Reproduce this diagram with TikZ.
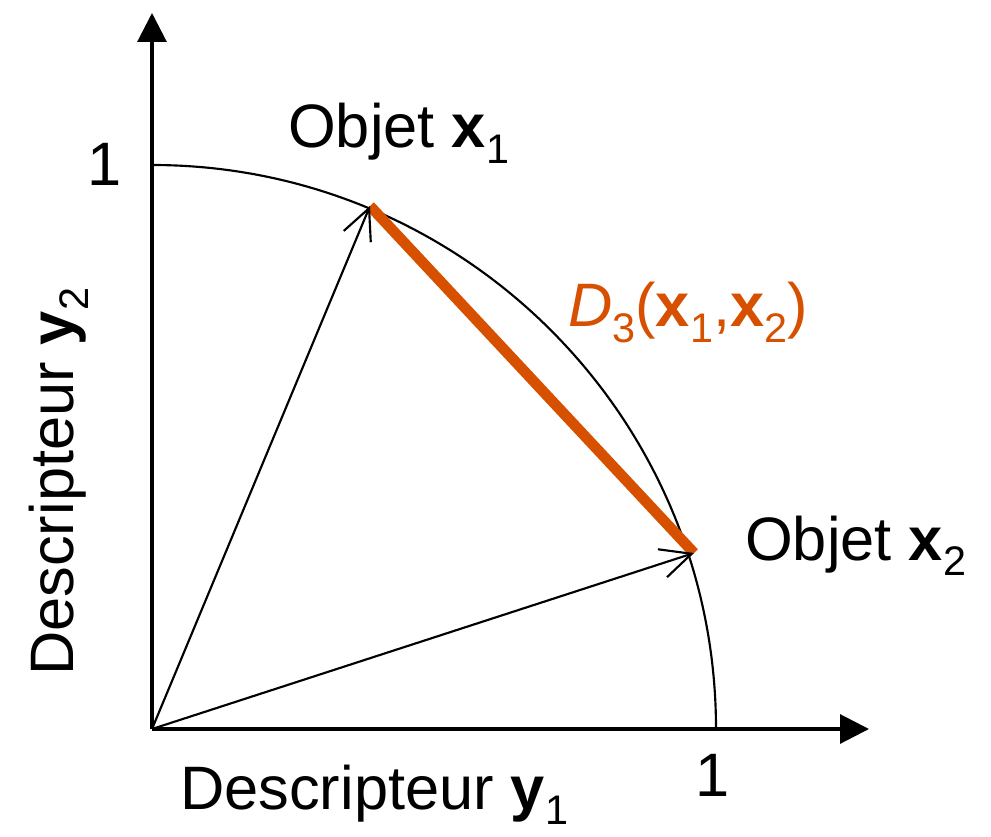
\documentclass[tikz,border=0pt]{standalone}
\usepackage{fontspec}
\setmainfont{Liberation Sans}
\usetikzlibrary{arrows.meta}
\definecolor{orng}{RGB}{214,80,0}
\newcommand{\sbs}[1]{\raisebox{-0.26em}{\fontsize{31}{34}\selectfont #1}}
\begin{document}
\begin{tikzpicture}[x=0.75pt,y=0.75pt,
  axis/.style={line width=2.3pt,-{Triangle[length=21.75pt,width=21.75pt]}},
  vec/.style={line width=1.6pt,-{Straight Barb[length=23pt,width=22pt,line width=1.6pt]}},
  circ/.style={line width=1.6pt},
  dist/.style={line width=8pt,draw=orng},
  lbl/.style={font=\fontsize{46}{55}\selectfont,inner sep=0pt}]
\useasboundingbox (0,0) rectangle (991,836);
\coordinate (O) at (152,107);
\coordinate (YT) at (152,823);
\coordinate (XT) at (869,107);
\coordinate (A0) at (716,107);
\coordinate (X1) at (370,630);
\coordinate (X2) at (694,283);
\draw[circ] (A0) arc[start angle=0,end angle=90,radius=564];
\draw[dist] (X1) -- (X2);
\draw[vec] (O) -- (X1);
\draw[vec] (O) -- (X2);
\draw[axis] (O) -- (YT);
\draw[axis] (O) -- (XT);
\node[lbl] (one1) at (105,672) {1};
\node[lbl] (one2) at (713,61) {1};
\node[lbl,anchor=base west] (ox1) at (288,688) {Objet \textbf{x}\sbs{1}};
\node[lbl,anchor=base west] (ox2) at (745,276) {Objet \textbf{x}\sbs{2}};
\node[lbl,anchor=base west,text=orng] (d3) at (568,509) {\textit{D}\sbs{3}(\textbf{x}\sbs{1},\textbf{x}\sbs{2})};
\node[lbl,anchor=base west] (dy1) at (180,27) {Descripteur \textbf{y}\sbs{1}};
\node[lbl,anchor=base west,rotate=90] (dy2) at (73,160) {Descripteur \textbf{y}\sbs{2}};
\end{tikzpicture}
\end{document}
